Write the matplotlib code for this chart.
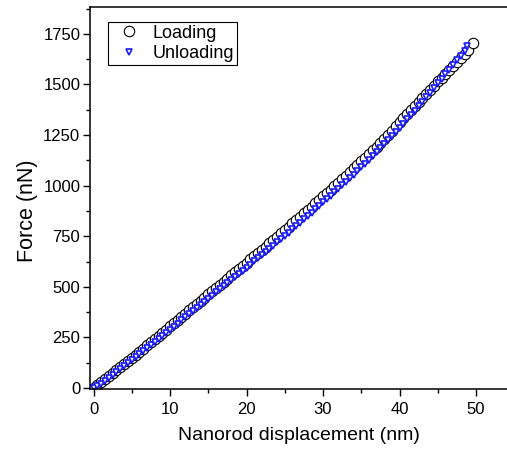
import numpy as np
import matplotlib
matplotlib.use("Agg")
import matplotlib.pyplot as plt
from matplotlib.ticker import MultipleLocator

plt.rcParams['font.family'] = ['Liberation Sans', 'DejaVu Sans']

# Loading curve (nm, nN)
load_x = [0, 0.5, 1, 1.5, 2, 2.5, 3, 3.5, 4, 4.5, 5, 5.5, 6, 6.5, 7, 7.5, 8, 8.5, 9, 9.5,
          10, 10.5, 11, 11.5, 12, 12.5, 13, 13.5, 14, 14.5, 15, 15.5, 16, 16.5, 17, 17.5, 18, 18.5, 19, 19.5,
          20, 20.5, 21, 21.5, 22, 22.5, 23, 23.5, 24, 24.5, 25, 25.5, 26, 26.5, 27, 27.5, 28, 28.5, 29, 29.5,
          30, 30.5, 31, 31.5, 32, 32.5, 33, 33.5, 34, 34.5, 35, 35.5, 36, 36.5, 37, 37.5, 38, 38.5, 39, 39.5,
          40, 40.5, 41, 41.5, 42, 42.5, 43, 43.5, 44, 44.5, 45, 45.5, 46, 46.5, 47, 47.5, 48, 48.5, 49, 49.6]
load_y = [0, 13, 28, 43, 58, 74, 90, 105, 120, 135, 150, 165, 180, 195, 210, 225, 240, 256, 272, 288,
          304, 320, 336, 352, 368, 384, 400, 416, 432, 447, 463, 478, 494, 510, 525, 541, 556, 572, 588, 604,
          620, 636, 652, 668, 683, 699, 715, 731, 748, 764, 780, 797, 813, 830, 846, 863, 880, 896, 913, 930,
          947, 964, 981, 998, 1015, 1032, 1050, 1067, 1085, 1102, 1120, 1138, 1156, 1175, 1193, 1212, 1232, 1252, 1272, 1293,
          1314, 1334, 1354, 1374, 1395, 1415, 1435, 1455, 1475, 1495, 1515, 1534, 1553, 1572, 1592, 1611, 1630, 1650, 1670, 1705]

# Unloading curve (nm, nN)
unload_x = [0, 0.5, 1, 1.5, 2, 2.5, 3, 3.5, 4, 4.5, 5, 5.5, 6, 6.5, 7, 7.5, 8, 8.5, 9, 9.5,
            10, 10.5, 11, 11.5, 12, 12.5, 13, 13.5, 14, 14.5, 15, 15.5, 16, 16.5, 17, 17.5, 18, 18.5, 19, 19.5,
            20, 20.5, 21, 21.5, 22, 22.5, 23, 23.5, 24, 24.5, 25, 25.5, 26, 26.5, 27, 27.5, 28, 28.5, 29, 29.5,
            30, 30.5, 31, 31.5, 32, 32.5, 33, 33.5, 34, 34.5, 35, 35.5, 36, 36.5, 37, 37.5, 38, 38.5, 39, 39.5,
            40, 40.5, 41, 41.5, 42, 42.5, 43, 43.5, 44, 44.5, 45, 45.5, 46, 46.5, 47, 47.5, 48, 48.5, 48.8]
unload_y = [0, 8, 20, 34, 48, 63, 78, 93, 108, 123, 138, 153, 168, 183, 198, 213, 228, 243, 258, 273,
            288, 303, 318, 334, 349, 364, 380, 395, 410, 426, 441, 456, 472, 487, 502, 518, 533, 548, 564, 579,
            595, 610, 626, 641, 657, 672, 688, 704, 720, 736, 752, 768, 784, 800, 817, 833, 850, 866, 883, 900,
            917, 934, 951, 968, 985, 1002, 1020, 1037, 1055, 1073, 1091, 1109, 1127, 1146, 1165, 1184, 1204, 1224, 1244, 1265,
            1286, 1307, 1328, 1349, 1371, 1393, 1415, 1437, 1460, 1482, 1505, 1527, 1550, 1573, 1596, 1619, 1643, 1667, 1690]

fig = plt.figure(figsize=(5.07, 4.59), dpi=100)
ax = fig.add_axes([90/507, 70/459, 417/507, 382/459])

ax.plot(load_x, load_y, linestyle='none', marker='o', markersize=7.5,
        mfc='white', mec='black', mew=0.8, label='Loading')
ax.plot(unload_x, unload_y, linestyle='none', marker='v', markersize=5,
        mfc='white', mec='#1a1aff', mew=1.2, label='Unloading')

ax.set_xlim(-0.46, 54.05)
ax.set_ylim(-5, 1883)
ax.xaxis.set_major_locator(MultipleLocator(10))
ax.xaxis.set_minor_locator(MultipleLocator(5))
ax.yaxis.set_major_locator(MultipleLocator(250))
ax.yaxis.set_minor_locator(MultipleLocator(125))
ax.tick_params(which='both', direction='out', top=False, right=False, labelsize=12, width=1)
ax.tick_params(which='major', length=5)
ax.tick_params(which='minor', length=3)
ax.tick_params(axis='x', pad=4)
ax.tick_params(axis='y', pad=2)
ax.spines['right'].set_visible(False)
for s in ['left', 'bottom', 'top']:
    ax.spines[s].set_linewidth(1.1)

ax.set_xlabel('Nanorod displacement (nm)', fontsize=14)
ax.set_ylabel('Force (nN)', fontsize=15.5)
ax.xaxis.set_label_coords(0.5, -0.1)
ax.yaxis.set_label_coords(-0.125, 0.466)

leg = ax.legend(loc='upper left', bbox_to_anchor=(108/507, 1-22/459), bbox_transform=fig.transFigure,
                borderaxespad=0, fancybox=False, edgecolor='black', framealpha=1, fontsize=13,
                handletextpad=0.33, borderpad=0.15, labelspacing=0.2, handlelength=2)
leg.get_frame().set_linewidth(0.8)

fig.savefig('out.png', dpi=100)
